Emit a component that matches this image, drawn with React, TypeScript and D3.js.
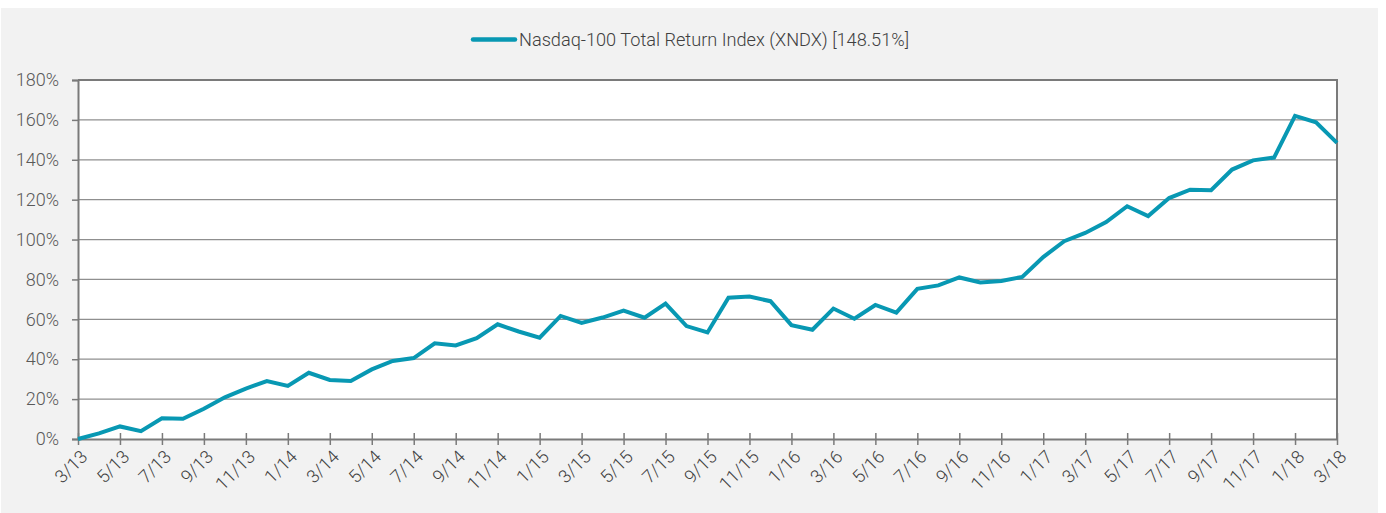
import React, { useEffect, useRef } from 'react';
import * as d3 from 'd3';

// monthly points, 3/13 .. 3/18
const months = [
  '3/13', '4/13', '5/13', '6/13', '7/13', '8/13', '9/13', '10/13', '11/13', '12/13',
  '1/14', '2/14', '3/14', '4/14', '5/14', '6/14', '7/14', '8/14', '9/14', '10/14', '11/14', '12/14',
  '1/15', '2/15', '3/15', '4/15', '5/15', '6/15', '7/15', '8/15', '9/15', '10/15', '11/15', '12/15',
  '1/16', '2/16', '3/16', '4/16', '5/16', '6/16', '7/16', '8/16', '9/16', '10/16', '11/16', '12/16',
  '1/17', '2/17', '3/17', '4/17', '5/17', '6/17', '7/17', '8/17', '9/17', '10/17', '11/17', '12/17',
  '1/18', '2/18', '3/18',
];

// cumulative total return, %
const xndx = [
  0, 2.8, 6.3, 3.9, 10.4, 10.1, 15.2, 20.9, 25.3, 29.0,
  26.6, 33.2, 29.6, 29.1, 34.9, 39.1, 40.6, 48.0, 46.9, 50.6,
  57.5, 53.9, 50.8, 61.7, 58.2, 60.9, 64.4, 60.8, 67.9, 56.6,
  53.4, 70.8, 71.4, 69.1, 57.1, 54.8, 65.4, 60.3, 67.2, 63.4,
  75.3, 77.0, 81.0, 78.5, 79.2, 81.3, 91.2, 99.2, 103.3, 108.8,
  116.7, 111.8, 120.8, 125.0, 124.7, 135.1, 139.7, 141.1, 162.0, 158.8,
  148.51,
];

const yTicks = [0, 20, 40, 60, 80, 100, 120, 140, 160, 180];
const seriesName = 'Nasdaq-100 Total Return Index (XNDX) [148.51%]';

const W = 1386;
const H = 513;
const LINE = '#0898b3';
const FONT = 'Roboto, "Noto Sans", sans-serif';

const Chart = () => {
  const svgRef = useRef<SVGSVGElement>(null);

  useEffect(() => {
    if (!svgRef.current) return;
    const svg = d3.select(svgRef.current);
    svg.selectAll('*').remove();

    const left = 78, right = 1337, top = 80, bottom = 439;

    const x = d3.scaleLinear().domain([0, months.length - 1]).range([left, right]);
    const y = d3.scaleLinear().domain([0, 180]).range([bottom, top]);

    // backgrounds
    svg.append('rect')
      .attr('x', 1).attr('y', 8).attr('width', 1377).attr('height', H - 8)
      .attr('fill', '#f2f2f2');
    svg.append('rect')
      .attr('x', left).attr('y', top).attr('width', right - left).attr('height', bottom - top)
      .attr('fill', '#ffffff');

    // gridlines
    svg.append('g')
      .selectAll('line')
      .data(yTicks.filter(t => t > 0 && t < 180))
      .enter()
      .append('line')
      .attr('x1', left).attr('x2', right)
      .attr('y1', d => y(d)).attr('y2', d => y(d))
      .attr('stroke', '#8f8f8f')
      .attr('stroke-width', 1.3);

    // plot border (top + right)
    svg.append('path')
      .attr('d', `M${left},${top}H${right}V${bottom}`)
      .attr('fill', 'none')
      .attr('stroke', '#7a7a7a')
      .attr('stroke-width', 2);

    // y axis
    const yAxis = d3.axisLeft(y)
      .tickValues(yTicks)
      .tickSize(6)
      .tickPadding(13)
      .tickFormat(d => `${d}%`);
    const gy = svg.append('g')
      .attr('transform', `translate(${left},0)`)
      .call(yAxis);
    gy.select('.domain').attr('stroke', '#7a7a7a').attr('stroke-width', 2);
    gy.selectAll('.tick line').attr('stroke', '#7a7a7a').attr('stroke-width', 1.5);
    gy.selectAll('.tick text')
      .attr('fill', '#595959')
      .attr('font-family', FONT)
      .attr('font-weight', 300)
      .attr('font-size', '18px');

    // x axis, tick every 2 months, crossing the axis line
    const tickIdx = months.map((_, i) => i).filter(i => i % 2 === 0);
    const xAxis = d3.axisBottom(x)
      .tickValues(tickIdx)
      .tickSizeInner(6)
      .tickSizeOuter(0)
      .tickFormat(i => months[i as number]);
    const gx = svg.append('g')
      .attr('transform', `translate(0,${bottom})`)
      .call(xAxis);
    gx.select('.domain').attr('stroke', '#7a7a7a').attr('stroke-width', 2);
    gx.selectAll('.tick line')
      .attr('y1', -6)
      .attr('y2', 6)
      .attr('stroke', '#7a7a7a')
      .attr('stroke-width', 1.5);
    gx.selectAll('.tick text')
      .attr('fill', '#404040')
      .attr('font-family', FONT)
      .attr('font-weight', 300)
      .attr('font-size', '18px')
      .attr('text-anchor', 'end')
      .attr('x', 0)
      .attr('y', 0)
      .attr('dy', 0)
      .attr('transform', 'translate(10,19) rotate(-45)');

    // series line
    const line = d3.line<number>()
      .x((_, i) => x(i))
      .y(d => y(d));
    svg.append('path')
      .datum(xndx)
      .attr('d', line)
      .attr('fill', 'none')
      .attr('stroke', LINE)
      .attr('stroke-width', 4)
      .attr('stroke-linejoin', 'miter');

    // legend
    svg.append('line')
      .attr('x1', 473).attr('x2', 515)
      .attr('y1', 39.5).attr('y2', 39.5)
      .attr('stroke', LINE)
      .attr('stroke-width', 4.5)
      .attr('stroke-linecap', 'round');
    svg.append('text')
      .attr('x', 519)
      .attr('y', 46)
      .attr('fill', '#404040')
      .attr('font-family', FONT)
      .attr('font-weight', 300)
      .attr('font-size', '18.5px')
      .attr('textLength', 390)
      .attr('lengthAdjust', 'spacingAndGlyphs')
      .text(seriesName);
  }, []);

  return (
    <svg
      ref={svgRef}
      width={W}
      height={H}
      viewBox={`0 0 ${W} ${H}`}
      style={{ position: 'absolute', left: 0, top: 0, display: 'block' }}
    />
  );
};

export default function App() {
  return <Chart />;
}
